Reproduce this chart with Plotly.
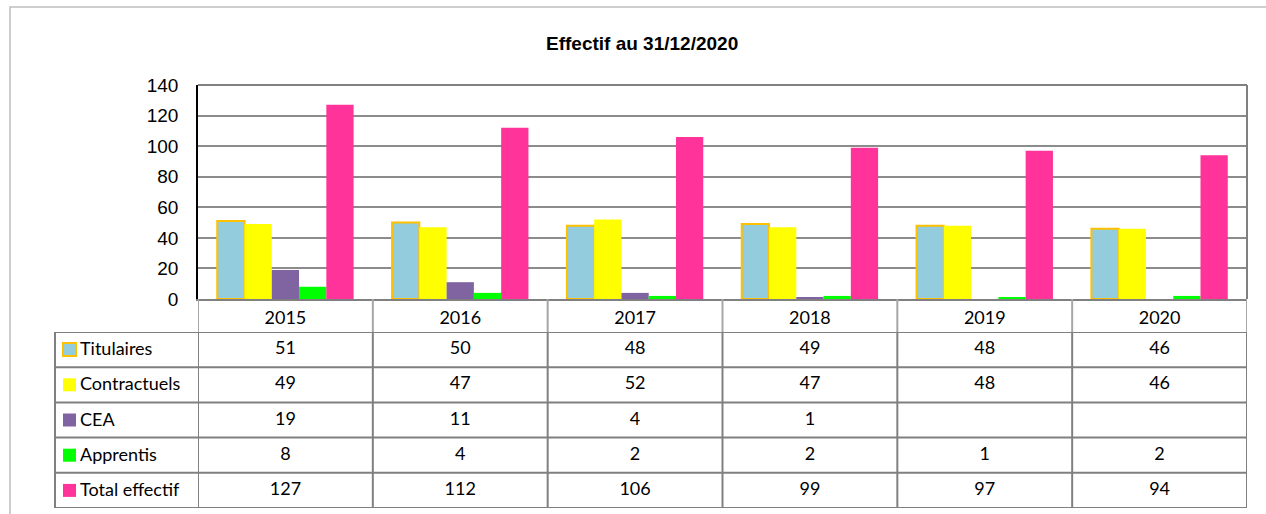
import plotly.graph_objects as go

# ---------------- data ----------------
years = ["2015", "2016", "2017", "2018", "2019", "2020"]
series_names = ["Titulaires", "Contractuels", "CEA", "Apprentis", "Total effectif"]
titulaires = [51, 50, 48, 49, 48, 46]
contractuels = [49, 47, 52, 47, 48, 46]
cea = [19, 11, 4, 1, None, None]
apprentis = [8, 4, 2, 2, 1, 2]
total_effectif = [127, 112, 106, 99, 97, 94]
y_tick_values = [0, 20, 40, 60, 80, 100, 120, 140]
chart_title = "Effectif au 31/12/2020"

series_values = [titulaires, contractuels, cea, apprentis, total_effectif]
fill_colors = ["#93CDDD", "#FFFF00", "#8064A2", "#00FF00", "#FF3399"]
outline_colors = ["#FFC000", None, None, None, None]

# ---------------- layout helpers ----------------
W, H = 1266, 514
def px(x):
    return x / W
def py(y):
    return 1 - y / H

PLOT_L, PLOT_R, PLOT_T, PLOT_B = 198, 1247, 85, 299
TABLE_T, TABLE_B = 332, 508
LABEL_L = 55
GRID = "#808080"
TABLE_FONT = "Lato"
AXIS_FONT = "Liberation Sans, Arial"

fig = go.Figure()

for name, vals, fc, oc in zip(series_names, series_values, fill_colors, outline_colors):
    fig.add_trace(go.Bar(
        x=years, y=vals, name=name,
        marker=dict(color=fc,
                    line=dict(color=oc if oc else fc, width=2 if oc else 0)),
        xaxis="x", yaxis="y", showlegend=False, hoverinfo="skip"))

# table values
tx, ty, tt = [], [], []
for name, vals in zip(series_names, series_values):
    for yr, v in zip(years, vals):
        if v is not None:
            tx.append(yr)
            ty.append(name)
            tt.append(str(v))
fig.add_trace(go.Scatter(
    x=tx, y=ty, text=tt, mode="text", xaxis="x2", yaxis="y2",
    textfont=dict(family=TABLE_FONT, size=18, color="black"),
    showlegend=False, hoverinfo="skip"))

shapes = []
# outer chart frame
shapes.append(dict(type="rect", xref="paper", yref="paper",
                   x0=px(10), x1=px(1290), y0=py(540), y1=py(7),
                   line=dict(color="#BFBFBF", width=1.5), layer="below"))
# plot area top & right borders
shapes.append(dict(type="line", xref="x domain", yref="y domain",
                   x0=1, x1=1, y0=0, y1=1, line=dict(color=GRID, width=2)))
shapes.append(dict(type="line", xref="x domain", yref="y domain",
                   x0=0, x1=1, y0=1, y1=1, line=dict(color=GRID, width=2)))
# header row vertical separators
for i in range(len(years) + 1):
    shapes.append(dict(type="line", xref="x", yref="paper",
                       x0=i - 0.5, x1=i - 0.5, y0=py(TABLE_T), y1=py(PLOT_B),
                       line=dict(color="#A6A6A6", width=2)))
# table horizontal lines
for k in range(len(series_names) + 1):
    shapes.append(dict(type="line", xref="paper", yref="y2",
                       x0=px(LABEL_L), x1=px(PLOT_R), y0=k - 0.5, y1=k - 0.5,
                       line=dict(color=GRID, width=2)))
# table vertical lines
shapes.append(dict(type="line", xref="paper", yref="y2",
                   x0=px(LABEL_L), x1=px(LABEL_L), y0=-0.5, y1=len(series_names) - 0.5,
                   line=dict(color=GRID, width=2)))
for i in range(len(years) + 1):
    shapes.append(dict(type="line", xref="x2", yref="y2",
                       x0=i - 0.5, x1=i - 0.5, y0=-0.5, y1=len(series_names) - 0.5,
                       line=dict(color=GRID, width=2)))
# legend swatches
for j, (fc, oc) in enumerate(zip(fill_colors, outline_colors)):
    shapes.append(dict(type="rect", xref="paper", yref="y2",
                       x0=px(63), x1=px(76),
                       ysizemode="pixel", yanchor=j, y0=-6.5, y1=6.5,
                       fillcolor=fc,
                       line=dict(color=oc if oc else fc, width=2 if oc else 0)))

annotations = []
for j, name in enumerate(series_names):
    annotations.append(dict(xref="paper", yref="y2", x=px(78), y=j, yshift=1.5,
                            xanchor="left", yanchor="middle", showarrow=False,
                            text=name, font=dict(family=TABLE_FONT, size=18, color="black")))
annotations.append(dict(xref="paper", yref="paper", x=px(642), y=py(43),
                        xanchor="center", yanchor="middle", showarrow=False,
                        text="<b>" + chart_title + "</b>",
                        font=dict(family=AXIS_FONT, size=19, color="black")))

fig.update_layout(
    width=W, height=H, autosize=False,
    margin=dict(l=0, r=0, t=0, b=0, pad=0, autoexpand=False),
    paper_bgcolor="white", plot_bgcolor="white",
    barmode="group", bargap=0.22, bargroupgap=0,
    xaxis=dict(domain=[px(PLOT_L), px(PLOT_R)], type="category",
               categoryorder="array", categoryarray=years,
               range=[-0.5, len(years) - 0.5], automargin=False,
               showline=True, linecolor=GRID, linewidth=2,
               ticks="", showgrid=False, ticklabelstandoff=1,
               tickfont=dict(family=TABLE_FONT, size=18, color="black"),
               anchor="y", fixedrange=True),
    yaxis=dict(domain=[py(PLOT_B), py(PLOT_T)], range=[0, 140],
               tickvals=y_tick_values, ticks="", automargin=False,
               showgrid=True, gridcolor="#8C8C8C", gridwidth=1.5,
               showline=True, linecolor="black", linewidth=1.5,
               zeroline=False, ticklabelstandoff=14,
               tickfont=dict(family=AXIS_FONT, size=19, color="black"),
               anchor="x", fixedrange=True),
    xaxis2=dict(domain=[px(PLOT_L), px(PLOT_R)], type="category",
                categoryorder="array", categoryarray=years,
                range=[-0.5, len(years) - 0.5], visible=False, automargin=False,
                anchor="y2", fixedrange=True),
    yaxis2=dict(domain=[py(TABLE_B), py(TABLE_T)], type="category",
                categoryorder="array", categoryarray=series_names,
                range=[len(series_names) - 0.5, -0.5], visible=False, automargin=False,
                anchor="x2", fixedrange=True),
    shapes=shapes, annotations=annotations,
)

fig.write_html(
    "out.html",
    config={"displayModeBar": False},
    post_script="document.body.style.margin='0';"
                "document.documentElement.style.overflow='hidden';"
                "document.body.style.overflow='hidden';",
)
